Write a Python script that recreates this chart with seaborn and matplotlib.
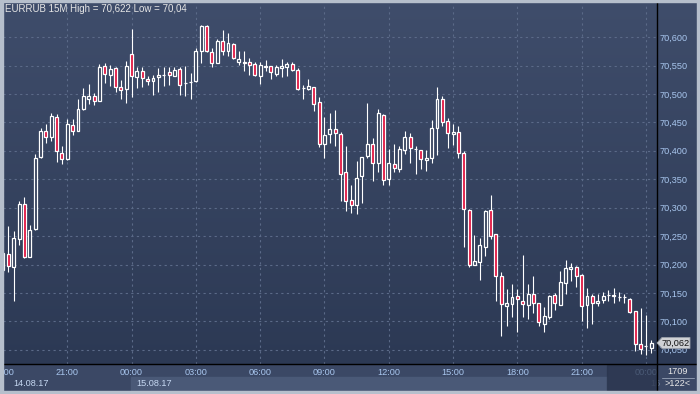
import numpy as np
import pandas as pd
import matplotlib
matplotlib.use("Agg")
import matplotlib.pyplot as plt
from matplotlib.patches import Rectangle, Polygon
from matplotlib.lines import Line2D
import seaborn as sns

# EURRUB 15M candles, 14.08.17 18:00 -> 16.08.17 00:15
opens = [70.190, 70.218, 70.196, 70.244, 70.306, 70.214, 70.262, 70.389, 70.435, 70.425,
         70.459, 70.396, 70.385, 70.446, 70.435, 70.473, 70.492, 70.496, 70.488, 70.549,
         70.534, 70.545, 70.513, 70.508, 70.570, 70.529, 70.541, 70.526, 70.522, 70.529,
         70.533, 70.538, 70.532, 70.544, 70.519, 70.521, 70.522, 70.575, 70.620, 70.573,
         70.555, 70.594, 70.575, 70.588, 70.557, 70.556, 70.556, 70.552, 70.531, 70.548,
         70.549, 70.535, 70.545, 70.548, 70.553, 70.542, 70.510, 70.508, 70.512, 70.485,
         70.412, 70.429, 70.438, 70.430, 70.362, 70.314, 70.305, 70.355, 70.390, 70.412,
         70.378, 70.463, 70.350, 70.376, 70.368, 70.402, 70.424, 70.403, 70.402, 70.384,
         70.387, 70.441, 70.491, 70.453, 70.430, 70.433, 70.397, 70.296, 70.200, 70.205,
         70.231, 70.296, 70.253, 70.179, 70.127, 70.130, 70.145, 70.136, 70.129, 70.149,
         70.132, 70.096, 70.107, 70.146, 70.129, 70.167, 70.192, 70.196, 70.182, 70.129,
         70.145, 70.132, 70.138, 70.146, 70.146, 70.143, 70.143, 70.139, 70.118, 70.060,
         70.057, 70.054]
highs = [70.226, 70.268, 70.259, 70.312, 70.318, 70.270, 70.394, 70.440, 70.448, 70.466,
         70.464, 70.409, 70.456, 70.456, 70.491, 70.510, 70.518, 70.502, 70.553, 70.554,
         70.551, 70.548, 70.525, 70.558, 70.614, 70.548, 70.548, 70.531, 70.534, 70.545,
         70.547, 70.547, 70.548, 70.548, 70.549, 70.536, 70.580, 70.622, 70.621, 70.580,
         70.596, 70.613, 70.608, 70.590, 70.576, 70.575, 70.563, 70.557, 70.556, 70.560,
         70.550, 70.551, 70.562, 70.556, 70.557, 70.546, 70.516, 70.526, 70.513, 70.494,
         70.460, 70.466, 70.472, 70.433, 70.409, 70.340, 70.382, 70.389, 70.484, 70.422,
         70.473, 70.464, 70.403, 70.412, 70.409, 70.434, 70.431, 70.409, 70.402, 70.402,
         70.454, 70.513, 70.497, 70.457, 70.447, 70.444, 70.400, 70.297, 70.252, 70.247,
         70.296, 70.322, 70.254, 70.186, 70.157, 70.166, 70.157, 70.217, 70.165, 70.180,
         70.133, 70.126, 70.146, 70.150, 70.189, 70.208, 70.203, 70.197, 70.183, 70.158,
         70.149, 70.148, 70.152, 70.155, 70.158, 70.152, 70.148, 70.141, 70.119, 70.123,
         70.111, 70.067]
lows = [70.185, 70.187, 70.135, 70.234, 70.211, 70.213, 70.261, 70.388, 70.413, 70.418,
        70.381, 70.376, 70.384, 70.427, 70.434, 70.472, 70.482, 70.481, 70.487, 70.519,
        70.514, 70.504, 70.492, 70.484, 70.495, 70.510, 70.513, 70.516, 70.498, 70.504,
        70.514, 70.516, 70.531, 70.498, 70.497, 70.491, 70.521, 70.554, 70.574, 70.548,
        70.554, 70.569, 70.566, 70.561, 70.551, 70.541, 70.534, 70.532, 70.518, 70.541,
        70.526, 70.532, 70.529, 70.532, 70.541, 70.507, 70.492, 70.507, 70.470, 70.406,
        70.387, 70.413, 70.409, 70.312, 70.294, 70.290, 70.288, 70.308, 70.388, 70.347,
        70.363, 70.340, 70.340, 70.363, 70.362, 70.394, 70.379, 70.360, 70.368, 70.365,
        70.378, 70.393, 70.443, 70.405, 70.410, 70.388, 70.231, 70.196, 70.199, 70.173,
        70.215, 70.244, 70.136, 70.075, 70.091, 70.107, 70.082, 70.108, 70.104, 70.114,
        70.091, 70.082, 70.105, 70.120, 70.128, 70.149, 70.171, 70.161, 70.101, 70.089,
        70.095, 70.127, 70.132, 70.135, 70.132, 70.135, 70.132, 70.115, 70.047, 70.042,
        70.040, 70.044]
closes = [70.220, 70.197, 70.246, 70.306, 70.214, 70.260, 70.387, 70.435, 70.425, 70.461,
          70.399, 70.385, 70.447, 70.435, 70.473, 70.497, 70.497, 70.487, 70.548, 70.535,
          70.544, 70.513, 70.507, 70.549, 70.531, 70.541, 70.528, 70.522, 70.528, 70.534,
          70.534, 70.534, 70.542, 70.515, 70.519, 70.521, 70.575, 70.620, 70.575, 70.554,
          70.593, 70.576, 70.589, 70.563, 70.562, 70.555, 70.551, 70.533, 70.551, 70.550,
          70.539, 70.547, 70.549, 70.552, 70.542, 70.508, 70.510, 70.514, 70.482, 70.412,
          70.428, 70.438, 70.431, 70.360, 70.311, 70.305, 70.352, 70.389, 70.412, 70.378,
          70.466, 70.349, 70.378, 70.369, 70.403, 70.424, 70.405, 70.403, 70.385, 70.387,
          70.440, 70.492, 70.450, 70.431, 70.433, 70.396, 70.297, 70.200, 70.206, 70.234,
          70.294, 70.250, 70.179, 70.130, 70.133, 70.142, 70.139, 70.130, 70.149, 70.133,
          70.098, 70.109, 70.145, 70.133, 70.169, 70.193, 70.195, 70.179, 70.127, 70.145,
          70.132, 70.135, 70.145, 70.147, 70.145, 70.143, 70.142, 70.117, 70.060, 70.052,
          70.056, 70.062]

time_labels = ['18:00', '21:00', '00:00', '03:00', '06:00', '09:00',
               '12:00', '15:00', '18:00', '21:00', '00:00']
price_ticks = [70.05, 70.10, 70.15, 70.20, 70.25, 70.30,
               70.35, 70.40, 70.45, 70.50, 70.55, 70.60]
last_price = 70.062

df = pd.DataFrame({'open': opens, 'high': highs, 'low': lows, 'close': closes})
df['time'] = pd.date_range('2017-08-14 18:00', periods=len(df), freq='15min')
df['pos'] = np.arange(len(df))
df['bull'] = df['close'] >= df['open']
df['top'] = df[['open', 'close']].max(axis=1)
df['bot'] = df[['open', 'close']].min(axis=1)

sns.set_theme(style='dark')
plt.rcParams['font.family'] = ['Liberation Sans', 'DejaVu Sans']

W, H = 700, 394
fig = plt.figure(figsize=(7, 3.94), dpi=100)
fig.patch.set_facecolor('#3b4865')

def fx(px):
    return px / W

def fy(py):
    return 1 - py / H

# background gradient over the whole picture
bg = fig.add_axes([0, 0, 1, 1], zorder=-5)
grad = np.linspace(0, 1, 256)[:, None]
cmap = matplotlib.colors.LinearSegmentedColormap.from_list('bg', ['#3f4d6b', '#2c3954'])
bg.imshow(grad, aspect='auto', cmap=cmap, extent=[0, 1, fy(364), 1])
bg.set_xlim(0, 1)
bg.set_ylim(0, 1)
bg.axis('off')

ax = fig.add_axes([fx(3), fy(364), fx(656) - fx(3), fy(3) - fy(364)])
ax.set_facecolor('none')

bull_color = '#2f3c57'
bear_color = '#e0103c'

# wicks (not through the body)
ax.vlines(df['pos'], df['top'], df['high'], color='white', lw=0.8, zorder=3)
ax.vlines(df['pos'], df['low'], df['bot'], color='white', lw=0.8, zorder=3)
# bodies
face = np.where(df['bull'], bull_color, bear_color)
ax.bar(df['pos'], df['top'] - df['bot'], bottom=df['bot'], width=0.55,
       color=face, edgecolor='white', linewidth=0.9, zorder=4)

ax.set_xlim(0.056, 121.88)
ax.set_ylim(70.025, 70.660)

ax.set_xticks(df['pos'][::12])
ax.set_xticklabels(time_labels)
ax.set_yticks(price_ticks)
ax.set_yticklabels([f'{p:.3f}'.replace('.', ',') for p in price_ticks])
ax.yaxis.tick_right()
ax.tick_params(axis='both', length=0, labelsize=6.6, colors='#a8c6ee')
ax.tick_params(axis='x', pad=3.0)
ax.tick_params(axis='y', pad=2.2)
ax.grid(True, color='#5b6a88', linestyle=(0, (2, 3)), linewidth=0.8)
for s in ax.spines.values():
    s.set_visible(False)

# bottom date strip
fig.patches.append(Rectangle((fx(131), fy(391)), fx(607) - fx(131), fy(377) - fy(391),
                             transform=fig.transFigure, color='#4a5977', zorder=-1))
fig.text(fx(13), fy(383.5), '14.08.17', fontsize=6.6, color='#c6d8f2', va='center')
fig.text(fx(136), fy(383.5), '15.08.17', fontsize=6.6, color='#c6d8f2', va='center')
fig.text(fx(650), fy(383.5), '16', fontsize=6.6, color='#6a7894', va='center')
fig.patches.append(Rectangle((fx(607), fy(391)), fx(656) - fx(607), fy(365) - fy(391),
                             transform=fig.transFigure, color='#2a354d', alpha=0.75, zorder=5))

# right bottom counters
fig.text(fx(678), fy(372), '1709', fontsize=6.6, color='#e8e8e8', ha='center', va='center')
fig.text(fx(678), fy(384), '>122<', fontsize=6.6, color='#e8e8e8', ha='center', va='center')
fig.lines.append(Line2D([fx(662), fx(694)], [fy(378), fy(378)], transform=fig.transFigure,
                        color='#8a96ac', lw=0.7))

# black axis lines
fig.lines.append(Line2D([fx(656.5), fx(656.5)], [fy(2), fy(391)], transform=fig.transFigure,
                        color='black', lw=1.0, zorder=6))
fig.lines.append(Line2D([fx(3), fx(697)], [fy(364), fy(364)], transform=fig.transFigure,
                        color='black', lw=1.0, zorder=6))

# last price tag
y_tag = ax.transData.transform((0, last_price))[1]
ty = H - y_tag
tag = Polygon([(fx(657), fy(ty)), (fx(662), fy(ty - 5.5)), (fx(690), fy(ty - 5.5)),
               (fx(690), fy(ty + 5.5)), (fx(662), fy(ty + 5.5))],
              closed=True, transform=fig.transFigure, facecolor='#cfd1d4',
              edgecolor='#9aa0aa', lw=0.6, zorder=7)
fig.patches.append(tag)
fig.text(fx(676), fy(ty), f'{last_price:.3f}'.replace('.', ','), fontsize=6.6,
         color='#111111', ha='center', va='center', zorder=8)

# title
fig.text(fx(5), fy(8.5), 'EURRUB 15M High = 70,622 Low = 70,04', fontsize=7,
         color='#e6e6e6', va='center')

# outer frame
frame = '#b6bfcc'
for (x0, y0, x1, y1) in [(0, 0, 700, 2), (0, 0, 3, 394), (0, 391, 700, 394), (697, 0, 700, 394)]:
    fig.patches.append(Rectangle((fx(x0), fy(y1)), fx(x1) - fx(x0), fy(y0) - fy(y1),
                                 transform=fig.transFigure, color=frame, zorder=10))

fig.savefig('out.png', dpi=100, facecolor=fig.get_facecolor())
